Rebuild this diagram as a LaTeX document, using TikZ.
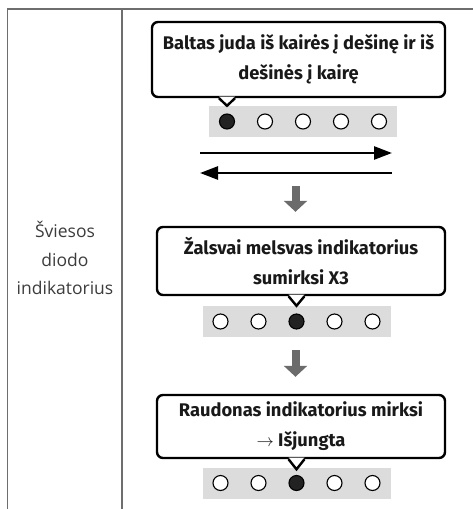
\documentclass[tikz,border=0pt]{standalone}
\usepackage{fontspec}
\setmainfont{Fira Sans}
\newfontfamily\sidefont{Open Sans}
\usetikzlibrary{positioning,arrows.meta,calc}
\definecolor{cRule}{HTML}{6E6E6E}
\definecolor{cBar}{HTML}{DCDCDC}
\definecolor{cStep}{HTML}{6B6B6B}
\definecolor{cLed}{HTML}{222222}
\definecolor{cSide}{HTML}{3C3C3C}
% one strip of five LEDs, #3 is the lit one
\newcommand{\ledrow}[3]{%
  \node[ledbar] (#1) at (#2) {};
  \foreach \k in {1,...,5}{%
    \ifnum\k=#3
      \node[ledon] (#1-\k) at ([xshift={(\k-3)*38pt}]#1.center) {};
    \else
      \node[ledoff] (#1-\k) at ([xshift={(\k-3)*38pt}]#1.center) {};
    \fi}}
% pointer of a callout, from its lower border to a tip
\newcommand{\bubbletail}[2]{%
  \fill[white] ($(#1.south -| #2)+(-8pt,1.6pt)$) -- (#2) -- ($(#1.south -| #2)+(8pt,1.6pt)$) -- cycle;
  \draw[line width=2.4pt,line join=miter] ($(#1.south -| #2)+(-8pt,0)$) -- (#2) -- ($(#1.south -| #2)+(8pt,0)$);}
\tikzset{
  bubble/.style={draw=black,line width=2.4pt,rounded corners=6pt,fill=white,
    align=center,inner sep=0pt,text=black!90,
    font=\bfseries\fontsize{18.3}{30}\selectfont},
  ledbar/.style={fill=cBar,minimum width=188pt,minimum height=31pt,inner sep=0pt},
  ledoff/.style={circle,draw=black,line width=1.1pt,fill=white,minimum size=15pt,inner sep=0pt},
  ledon/.style={ledoff,fill=cLed},
  sweep/.style={line width=2.6pt,-{Triangle[width=13pt,length=18pt]}},
  stepdown/.style={draw=cStep,line width=8pt,-{Triangle[width=23pt,length=11pt]}},
  sidelabel/.style={align=center,text=cSide,font=\sidefont\fontsize{17.5}{28.5}\selectfont}
}
\begin{document}
\begin{tikzpicture}[x=1pt,y=-1pt]
  \useasboundingbox (0,0) rectangle (473,509);
  % table frame
  \draw[cRule,line width=1.3pt] (473,9) -- (7.5,9) -- (7.5,509);
  \draw[cRule,line width=1.3pt] (122,9) -- (122,509);
  \node[sidelabel] (side) at (65,258) {Šviesos\\diodo\\indikatorius};

  % LED strips
  \ledrow{bar1}{303,121.5}{1}
  \ledrow{bar2}{296.5,321.5}{3}
  \ledrow{bar3}{296.5,483}{3}

  % callouts
  \node[bubble,minimum width=293pt,minimum height=75pt] (say1) at (298.5,59.5)
    {Baltas juda iš kairės į dešinę ir iš\\dešinės į kairę};
  \node[bubble,minimum width=288pt,minimum height=68pt] (say2) at (301,261)
    {Žalsvai melsvas indikatorius\\sumirksi X3};
  \node[bubble,minimum width=288pt,minimum height=63pt] (say3) at (301,426.5)
    {Raudonas indikatorius mirksi\\{\mdseries$\rightarrow$} Išjungta};
  \coordinate (tip1) at (bar1.north -| bar1-1);
  \coordinate (tip2) at (bar2.north -| bar2-3);
  \coordinate (tip3) at ([yshift=-2pt]bar3.north -| bar3-3);
  \bubbletail{say1}{tip1}
  \bubbletail{say2}{tip2}
  \bubbletail{say3}{tip3}

  % white LED runs back and forth
  \coordinate (fwdA) at (200,153);
  \coordinate (fwdB) at (392,153);
  \coordinate (backA) at (392,173);
  \coordinate (backB) at (200,173);
  \draw[sweep] (fwdA) -- (fwdB);
  \draw[sweep] (backA) -- (backB);

  % steps
  \coordinate (step1) at (295.5,186);
  \draw[stepdown,shorten >=14pt] (step1) -- (step1 |- say2.north);
  \draw[stepdown,shorten <=13pt,shorten >=17pt] (bar2.south -| step1) -- (step1 |- say3.north);
\end{tikzpicture}
\end{document}
